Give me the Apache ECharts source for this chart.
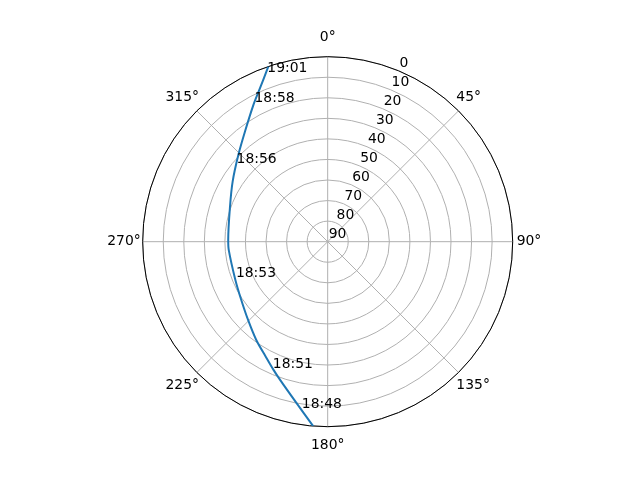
<!DOCTYPE html>
<html>
<head>
<meta charset="utf-8">
<script src="https://cdn.jsdelivr.net/npm/echarts@6/dist/echarts.min.js"></script>
<style>
  html, body { margin: 0; padding: 0; background: #fff; }
  #chart { width: 640px; height: 480px; }
</style>
</head>
<body>
<div id="chart"></div>
<script>
// pass track: azimuth (deg, clockwise from north) and elevation (deg)
const trackAz = [184.5, 190.9, 199.0, 202.9, 208.2, 216.0, 225.5, 236.0, 247.5, 265.3, 271.0, 289.8, 302.3, 314.2, 323.1, 331.5, 336.2, 341.3];
const trackEl = [0, 10.0, 18.9, 22.3, 26.4, 30.9, 35.7, 39.3, 41.4, 41.7, 41.6, 39.5, 35.3, 29.4, 23.0, 14.3, 8.4, 0];

// time annotations along the track
const timeLabels = ['18:48', '18:51', '18:53', '18:56', '18:58', '19:01'];
const timeAz = [189.2, 204.0, 249.4, 310.8, 332.1, 340.2];
const timeEl = [8.4, 23.2, 41.8, 30.8, 12.9, 1.9];

const font = 'DejaVu Sans';
const fontSize = 13.9;
const gridColor = '#b0b0b0';

const chart = echarts.init(document.getElementById('chart'));

// polar data is [radius, angle]
const trackData = trackAz.map((a, i) => [trackEl[i], a]);
const timeData = timeLabels.map((t, i) => ({ name: t, value: [timeEl[i], timeAz[i]] }));

// angle labels: echarts aligns them outward, rich styles re-centre them
function angleLabel(v) {
    if (v === 360) return '';
    const s = v + '°';
    if (v === 0 || v === 180) return '{v|' + s + '}';
    if (v === 90) return '{e|' + s + '}';
    if (v === 270) return '{w|' + s + '}';
    return '{d|' + s + '}';
}
const txt = { fontFamily: font, fontSize: fontSize, color: '#000' };

const option = {
    animation: false,
    polar: [
        { center: ['51.2%', '50.35%'], radius: 185 },
        // second polar only used to put the elevation labels at 22.5 deg
        { center: ['51.2%', '50.35%'], radius: 185 }
    ],
    angleAxis: [{
        polarIndex: 0,
        type: 'value',
        min: 0, max: 360, interval: 45,
        startAngle: 90,
        clockwise: true,
        axisLine: { show: true, lineStyle: { color: '#000', width: 1 } },
        axisTick: { show: false },
        axisLabel: {
            margin: -3,
            color: '#000',
            fontFamily: font,
            fontSize: fontSize,
            formatter: angleLabel,
            rich: {
                v: Object.assign({ lineHeight: 44 }, txt),
                d: Object.assign({ lineHeight: 31 }, txt),
                e: Object.assign({ padding: [0, 0, 0, 7] }, txt),
                w: Object.assign({ padding: [0, 5, 0, 0] }, txt)
            }
        },
        splitLine: { show: true, lineStyle: { color: gridColor, width: 1 } }
    }, {
        polarIndex: 1,
        type: 'value',
        min: 0, max: 360,
        startAngle: 67.5,
        clockwise: true,
        axisLine: { show: false },
        axisTick: { show: false },
        axisLabel: { show: false },
        splitLine: { show: false }
    }],
    radiusAxis: [{
        polarIndex: 0,
        type: 'value',
        min: 0, max: 90, interval: 10,
        inverse: true,
        axisLine: { show: false },
        axisTick: { show: false },
        axisLabel: { show: false },
        splitLine: { show: true, lineStyle: { color: gridColor, width: 1 } }
    }, {
        polarIndex: 1,
        type: 'value',
        min: 0, max: 90, interval: 10,
        inverse: true,
        axisLine: { show: false },
        axisTick: { show: false },
        splitLine: { show: false },
        axisLabel: {
            margin: 0,
            align: 'left',
            verticalAlign: 'bottom',
            padding: [0, 0, 0, 1],
            color: '#000',
            fontFamily: font,
            fontSize: fontSize
        }
    }],
    series: [{
        type: 'line',
        coordinateSystem: 'polar',
        polarIndex: 0,
        data: trackData,
        showSymbol: false,
        smooth: 0.3,
        lineStyle: { color: '#1f77b4', width: 2 },
        z: 3
    }, {
        type: 'scatter',
        coordinateSystem: 'polar',
        polarIndex: 0,
        data: timeData,
        symbolSize: 1,
        itemStyle: { color: 'rgba(0,0,0,0)', opacity: 1 },
        label: {
            show: true,
            formatter: '{b}',
            position: [0, 0],
            offset: [1.5, 4.5],
            align: 'left',
            verticalAlign: 'bottom',
            color: '#000',
            opacity: 1,
            fontFamily: font,
            fontSize: fontSize
        },
        z: 4
    }]
};

chart.setOption(option);
</script>
</body>
</html>
